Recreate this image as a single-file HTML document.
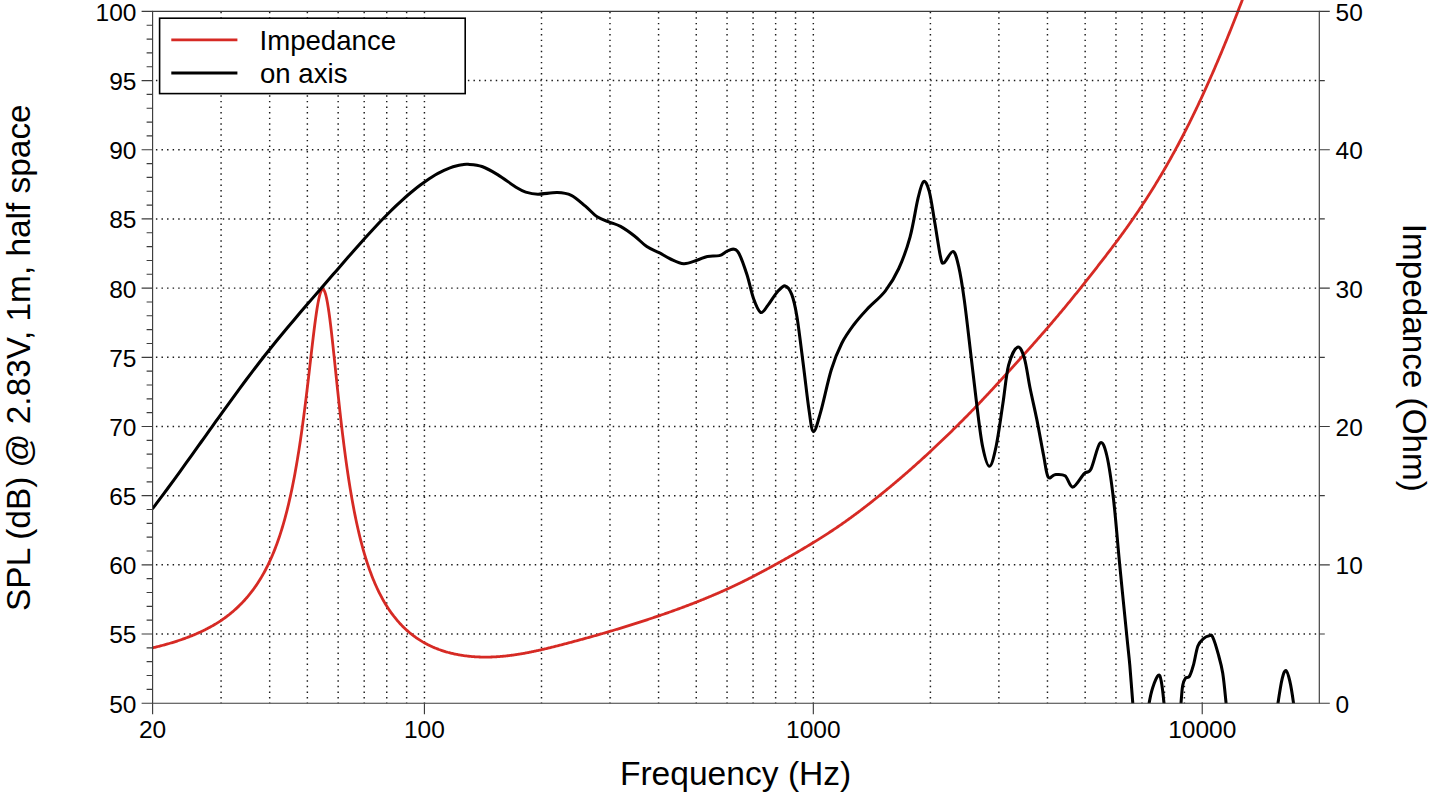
<!DOCTYPE html><html><head><meta charset="utf-8"><style>html,body{margin:0;padding:0;background:#fff;width:1432px;height:797px;overflow:hidden}svg{display:block}text{font-family:"Liberation Sans",sans-serif;fill:#000}</style></head><body>
<svg width="1432" height="797" viewBox="0 0 1432 797">
<path d="M221.08,11.78V703.20 M269.67,11.78V703.20 M307.36,11.78V703.20 M338.15,11.78V703.20 M364.19,11.78V703.20 M386.74,11.78V703.20 M406.63,11.78V703.20 M424.43,11.78V703.20 M541.50,11.78V703.20 M609.98,11.78V703.20 M658.57,11.78V703.20 M696.26,11.78V703.20 M727.05,11.78V703.20 M753.09,11.78V703.20 M775.64,11.78V703.20 M795.53,11.78V703.20 M813.33,11.78V703.20 M930.40,11.78V703.20 M998.88,11.78V703.20 M1047.47,11.78V703.20 M1085.16,11.78V703.20 M1115.95,11.78V703.20 M1141.99,11.78V703.20 M1164.54,11.78V703.20 M1184.43,11.78V703.20 M1202.23,11.78V703.20 M155.92,634.02H1319.30 M155.92,564.84H1319.30 M155.92,495.66H1319.30 M155.92,426.48H1319.30 M155.92,357.30H1319.30 M155.92,288.12H1319.30 M155.92,218.94H1319.30 M155.92,149.76H1319.30 M155.92,80.58H1319.30" stroke="#1a1a1a" stroke-width="1.45" stroke-dasharray="1.45 4.121" fill="none"/>
<defs><clipPath id="c"><rect x="152.60" y="-8.60" width="1166.70" height="711.80"/></clipPath></defs>
<g clip-path="url(#c)" fill="none" stroke-linejoin="round" stroke-linecap="round">
<path d="M152.60,647.85 L153.39,647.66 L154.18,647.47 L154.97,647.28 L155.76,647.09 L156.55,646.90 L157.35,646.70 L158.14,646.50 L158.93,646.30 L159.72,646.10 L160.51,645.89 L161.30,645.69 L162.09,645.48 L162.88,645.27 L163.67,645.05 L164.46,644.84 L165.25,644.62 L166.05,644.40 L166.84,644.18 L167.63,643.95 L168.42,643.72 L169.21,643.49 L170.00,643.26 L170.79,643.03 L171.58,642.79 L172.37,642.55 L173.16,642.30 L173.95,642.06 L174.74,641.81 L175.54,641.56 L176.33,641.31 L177.12,641.05 L177.91,640.79 L178.70,640.53 L179.49,640.26 L180.28,639.99 L181.07,639.72 L181.86,639.45 L182.65,639.17 L183.44,638.89 L184.24,638.61 L185.03,638.32 L185.82,638.03 L186.61,637.73 L187.40,637.44 L188.19,637.14 L188.98,636.83 L189.77,636.52 L190.56,636.21 L191.35,635.90 L192.14,635.58 L192.94,635.25 L193.73,634.93 L194.52,634.59 L195.31,634.26 L196.10,633.92 L196.89,633.57 L197.68,633.23 L198.47,632.87 L199.26,632.52 L200.05,632.16 L200.84,631.79 L201.64,631.42 L202.43,631.04 L203.22,630.66 L204.01,630.28 L204.80,629.89 L205.59,629.49 L206.38,629.09 L207.17,628.68 L207.96,628.27 L208.75,627.85 L209.54,627.43 L210.34,627.00 L211.13,626.57 L211.92,626.13 L212.71,625.68 L213.50,625.23 L214.29,624.77 L215.08,624.30 L215.87,623.83 L216.66,623.35 L217.45,622.86 L218.24,622.37 L219.03,621.87 L219.83,621.36 L220.62,620.85 L221.41,620.32 L222.20,619.77 L222.99,619.22 L223.78,618.65 L224.57,618.08 L225.36,617.50 L226.15,616.91 L226.94,616.32 L227.73,615.71 L228.53,615.10 L229.32,614.47 L230.11,613.84 L230.90,613.19 L231.69,612.53 L232.48,611.87 L233.27,611.19 L234.06,610.50 L234.85,609.81 L235.64,609.10 L236.43,608.37 L237.23,607.64 L238.02,606.89 L238.81,606.13 L239.60,605.36 L240.39,604.57 L241.18,603.77 L241.97,602.96 L242.76,602.13 L243.55,601.29 L244.34,600.43 L245.13,599.55 L245.93,598.66 L246.72,597.75 L247.51,596.83 L248.30,595.89 L249.09,594.93 L249.88,593.95 L250.67,592.95 L251.46,591.93 L252.25,590.90 L253.04,589.84 L253.83,588.76 L254.63,587.66 L255.42,586.53 L256.21,585.38 L257.00,584.21 L257.79,583.01 L258.58,581.79 L259.37,580.54 L260.16,579.26 L260.95,577.96 L261.74,576.62 L262.53,575.26 L263.32,573.86 L264.12,572.44 L264.91,570.98 L265.70,569.48 L266.49,567.95 L267.28,566.38 L268.07,564.78 L268.86,563.13 L269.65,561.45 L270.44,559.72 L271.23,557.95 L272.02,556.13 L272.82,554.27 L273.61,552.35 L274.40,550.39 L275.19,548.38 L275.98,546.31 L276.77,544.18 L277.56,542.00 L278.35,539.75 L279.14,537.44 L279.93,535.07 L280.72,532.63 L281.52,530.11 L282.31,527.53 L283.10,524.86 L283.89,522.12 L284.68,519.30 L285.47,516.39 L286.26,513.39 L287.05,510.30 L287.84,507.11 L288.63,503.82 L289.42,500.43 L290.22,496.93 L291.01,493.31 L291.80,489.59 L292.59,485.74 L293.38,481.76 L294.17,477.66 L294.96,473.42 L295.75,469.05 L296.54,464.54 L297.33,459.87 L298.12,455.06 L298.92,450.10 L299.71,444.98 L300.50,439.70 L301.29,434.27 L302.08,428.67 L302.87,422.91 L303.66,416.99 L304.45,410.92 L305.24,404.70 L306.03,398.33 L306.82,391.84 L307.61,385.22 L308.41,378.51 L309.20,371.72 L309.99,364.88 L310.78,358.03 L311.57,351.19 L312.36,344.42 L313.15,337.77 L313.94,331.28 L314.73,325.02 L315.52,319.06 L316.31,313.46 L317.11,308.29 L317.90,303.62 L318.69,299.50 L319.48,296.01 L320.27,293.19 L321.06,291.09 L321.85,289.75 L322.64,289.20 L323.43,289.45 L324.22,290.50 L325.01,292.36 L325.81,294.99 L326.60,298.36 L327.39,302.44 L328.18,307.16 L328.97,312.47 L329.76,318.31 L330.55,324.60 L331.34,331.27 L332.13,338.24 L332.92,345.46 L333.71,352.86 L334.51,360.37 L335.30,367.94 L336.09,375.52 L336.88,383.08 L337.67,390.57 L338.46,397.96 L339.25,405.24 L340.04,412.38 L340.83,419.36 L341.62,426.18 L342.41,432.83 L343.21,439.29 L344.00,445.58 L344.79,451.68 L345.58,457.59 L346.37,463.33 L347.16,468.88 L347.95,474.26 L348.74,479.46 L349.53,484.49 L350.32,489.36 L351.11,494.07 L351.90,498.62 L352.70,503.02 L353.49,507.28 L354.28,511.40 L355.07,515.38 L355.86,519.23 L356.65,522.96 L357.44,526.57 L358.23,530.06 L359.02,533.44 L359.81,536.71 L360.60,539.88 L361.40,542.95 L362.19,545.93 L362.98,548.81 L363.77,551.61 L364.56,554.32 L365.35,556.95 L366.14,559.50 L366.93,561.98 L367.72,564.39 L368.51,566.72 L369.30,568.99 L370.10,571.20 L370.89,573.34 L371.68,575.42 L372.47,577.45 L373.26,579.42 L374.05,581.33 L374.84,583.20 L375.63,585.01 L376.42,586.78 L377.21,588.50 L378.00,590.18 L378.80,591.81 L379.59,593.40 L380.38,594.95 L381.17,596.46 L381.96,597.94 L382.75,599.37 L383.54,600.78 L384.33,602.14 L385.12,603.48 L385.91,604.78 L386.70,606.05 L387.50,607.29 L388.29,608.50 L389.08,609.69 L389.87,610.84 L390.66,611.97 L391.45,613.08 L392.24,614.15 L393.03,615.21 L393.82,616.24 L394.61,617.24 L395.40,618.23 L396.19,619.19 L396.99,620.13 L397.78,621.05 L398.57,621.95 L399.36,622.83 L400.15,623.69 L400.94,624.54 L401.73,625.36 L402.52,626.17 L403.31,626.96 L404.10,627.73 L404.89,628.49 L405.69,629.23 L406.48,629.95 L407.27,630.66 L408.06,631.36 L408.85,632.04 L409.64,632.70 L410.43,633.35 L411.22,633.99 L412.01,634.61 L412.80,635.22 L413.59,635.82 L414.39,636.41 L415.18,636.98 L415.97,637.54 L416.76,638.09 L417.55,638.63 L418.34,639.16 L419.13,639.67 L419.92,640.18 L420.71,640.67 L421.50,641.15 L422.29,641.63 L423.09,642.09 L423.88,642.54 L424.67,642.99 L425.46,643.42 L426.25,643.84 L427.04,644.26 L427.83,644.66 L428.62,645.06 L429.41,645.45 L430.20,645.83 L430.99,646.20 L431.79,646.56 L432.58,646.92 L433.37,647.26 L434.16,647.60 L434.95,647.93 L435.74,648.26 L436.53,648.57 L437.32,648.88 L438.11,649.18 L438.90,649.48 L439.69,649.76 L440.48,650.04 L441.28,650.32 L442.07,650.58 L442.86,650.84 L443.65,651.09 L444.44,651.34 L445.23,651.58 L446.02,651.82 L446.81,652.04 L447.60,652.27 L448.39,652.48 L449.18,652.69 L449.98,652.90 L450.77,653.10 L451.56,653.29 L452.35,653.48 L453.14,653.66 L453.93,653.83 L454.72,654.01 L455.51,654.17 L456.30,654.33 L457.09,654.49 L457.88,654.64 L458.68,654.78 L459.47,654.92 L460.26,655.06 L461.05,655.19 L461.84,655.32 L462.63,655.44 L463.42,655.55 L464.21,655.67 L465.00,655.77 L465.79,655.88 L466.58,655.98 L467.38,656.07 L468.17,656.16 L468.96,656.24 L469.75,656.33 L470.54,656.40 L471.33,656.48 L472.12,656.54 L472.91,656.61 L473.70,656.67 L474.49,656.73 L475.28,656.78 L476.08,656.82 L476.87,656.87 L477.66,656.91 L478.45,656.95 L479.24,656.98 L480.03,657.01 L480.82,657.03 L481.61,657.05 L482.40,657.07 L483.19,657.08 L483.98,657.09 L484.77,657.10 L485.57,657.10 L486.36,657.10 L487.15,657.09 L487.94,657.08 L488.73,657.07 L489.52,657.06 L490.31,657.04 L491.10,657.01 L491.89,656.98 L492.68,656.95 L493.47,656.92 L494.27,656.89 L495.06,656.85 L495.85,656.80 L496.64,656.75 L497.43,656.70 L498.22,656.65 L499.01,656.59 L499.80,656.53 L500.59,656.47 L501.38,656.40 L502.17,656.33 L502.97,656.26 L503.76,656.18 L504.55,656.10 L505.34,656.02 L506.13,655.93 L506.92,655.84 L507.71,655.75 L508.50,655.66 L509.29,655.57 L510.08,655.47 L510.87,655.36 L511.67,655.26 L512.46,655.15 L513.25,655.04 L514.04,654.93 L514.83,654.82 L515.62,654.70 L516.41,654.58 L517.20,654.46 L517.99,654.33 L518.78,654.21 L519.57,654.08 L520.37,653.95 L521.16,653.81 L521.95,653.68 L522.74,653.54 L523.53,653.40 L524.32,653.26 L525.11,653.12 L525.90,652.97 L526.69,652.82 L527.48,652.67 L528.27,652.52 L529.06,652.36 L529.86,652.21 L530.65,652.05 L531.44,651.89 L532.23,651.73 L533.02,651.57 L533.81,651.40 L534.60,651.24 L535.39,651.07 L536.18,650.90 L536.97,650.73 L537.76,650.55 L538.56,650.38 L539.35,650.20 L540.14,650.03 L540.93,649.85 L541.72,649.67 L542.51,649.48 L543.30,649.30 L544.09,649.11 L544.88,648.93 L545.67,648.74 L546.46,648.55 L547.26,648.36 L548.05,648.17 L548.84,647.98 L549.63,647.78 L550.42,647.59 L551.21,647.39 L552.00,647.20 L552.79,647.00 L553.58,646.80 L554.37,646.60 L555.16,646.40 L555.96,646.20 L556.75,646.00 L557.54,645.80 L558.33,645.60 L559.12,645.39 L559.91,645.19 L560.70,644.98 L561.49,644.78 L562.28,644.57 L563.07,644.37 L563.86,644.16 L564.66,643.95 L565.45,643.74 L566.24,643.53 L567.03,643.33 L567.82,643.12 L568.61,642.91 L569.40,642.70 L570.19,642.49 L570.98,642.28 L571.77,642.07 L572.56,641.86 L573.35,641.65 L574.15,641.43 L574.94,641.22 L575.73,641.01 L576.52,640.80 L577.31,640.58 L578.10,640.37 L578.89,640.15 L579.68,639.94 L580.47,639.72 L581.26,639.51 L582.05,639.29 L582.85,639.08 L583.64,638.86 L584.43,638.64 L585.22,638.42 L586.01,638.21 L586.80,637.99 L587.59,637.77 L588.38,637.55 L589.17,637.33 L589.96,637.11 L590.75,636.89 L591.55,636.67 L592.34,636.44 L593.13,636.22 L593.92,636.00 L594.71,635.77 L595.50,635.55 L596.29,635.33 L597.08,635.10 L597.87,634.88 L598.66,634.65 L599.45,634.42 L600.25,634.19 L601.04,633.97 L601.83,633.74 L602.62,633.51 L603.41,633.28 L604.20,633.05 L604.99,632.82 L605.78,632.59 L606.57,632.36 L607.36,632.13 L608.15,631.89 L608.94,631.66 L609.74,631.42 L610.53,631.19 L611.32,630.96 L612.11,630.72 L612.90,630.48 L613.69,630.25 L614.48,630.01 L615.27,629.77 L616.06,629.53 L616.85,629.30 L617.64,629.06 L618.44,628.82 L619.23,628.57 L620.02,628.33 L620.81,628.09 L621.60,627.85 L622.39,627.61 L623.18,627.36 L623.97,627.12 L624.76,626.87 L625.55,626.63 L626.34,626.39 L627.14,626.14 L627.93,625.89 L628.72,625.65 L629.51,625.40 L630.30,625.15 L631.09,624.90 L631.88,624.65 L632.67,624.40 L633.46,624.15 L634.25,623.90 L635.04,623.65 L635.84,623.40 L636.63,623.14 L637.42,622.89 L638.21,622.64 L639.00,622.38 L639.79,622.13 L640.58,621.87 L641.37,621.62 L642.16,621.36 L642.95,621.11 L643.74,620.85 L644.54,620.59 L645.33,620.33 L646.12,620.07 L646.91,619.81 L647.70,619.55 L648.49,619.29 L649.28,619.03 L650.07,618.77 L650.86,618.51 L651.65,618.25 L652.44,617.98 L653.23,617.72 L654.03,617.45 L654.82,617.19 L655.61,616.92 L656.40,616.66 L657.19,616.39 L657.98,616.12 L658.77,615.85 L659.56,615.58 L660.35,615.31 L661.14,615.04 L661.93,614.77 L662.73,614.50 L663.52,614.22 L664.31,613.95 L665.10,613.67 L665.89,613.40 L666.68,613.12 L667.47,612.85 L668.26,612.57 L669.05,612.29 L669.84,612.01 L670.63,611.73 L671.43,611.45 L672.22,611.17 L673.01,610.88 L673.80,610.60 L674.59,610.31 L675.38,610.03 L676.17,609.74 L676.96,609.45 L677.75,609.17 L678.54,608.88 L679.33,608.59 L680.13,608.30 L680.92,608.00 L681.71,607.71 L682.50,607.42 L683.29,607.12 L684.08,606.83 L684.87,606.53 L685.66,606.23 L686.45,605.93 L687.24,605.63 L688.03,605.33 L688.83,605.03 L689.62,604.73 L690.41,604.43 L691.20,604.12 L691.99,603.82 L692.78,603.51 L693.57,603.20 L694.36,602.89 L695.15,602.58 L695.94,602.27 L696.73,601.96 L697.52,601.65 L698.32,601.34 L699.11,601.02 L699.90,600.71 L700.69,600.39 L701.48,600.07 L702.27,599.75 L703.06,599.43 L703.85,599.11 L704.64,598.79 L705.43,598.46 L706.22,598.14 L707.02,597.81 L707.81,597.49 L708.60,597.16 L709.39,596.83 L710.18,596.50 L710.97,596.17 L711.76,595.83 L712.55,595.50 L713.34,595.16 L714.13,594.83 L714.92,594.49 L715.72,594.15 L716.51,593.81 L717.30,593.47 L718.09,593.12 L718.88,592.78 L719.67,592.43 L720.46,592.08 L721.25,591.73 L722.04,591.38 L722.83,591.03 L723.62,590.68 L724.42,590.33 L725.21,589.97 L726.00,589.61 L726.79,589.25 L727.58,588.89 L728.37,588.53 L729.16,588.17 L729.95,587.80 L730.74,587.44 L731.53,587.07 L732.32,586.70 L733.12,586.33 L733.91,585.96 L734.70,585.58 L735.49,585.21 L736.28,584.83 L737.07,584.45 L737.86,584.07 L738.65,583.69 L739.44,583.31 L740.23,582.92 L741.02,582.54 L741.81,582.15 L742.61,581.76 L743.40,581.37 L744.19,580.98 L744.98,580.58 L745.77,580.19 L746.56,579.79 L747.35,579.39 L748.14,578.99 L748.93,578.59 L749.72,578.19 L750.51,577.79 L751.31,577.39 L752.10,576.98 L752.89,576.57 L753.68,576.16 L754.47,575.75 L755.26,575.34 L756.05,574.93 L756.84,574.52 L757.63,574.10 L758.42,573.69 L759.21,573.27 L760.01,572.85 L760.80,572.44 L761.59,572.02 L762.38,571.60 L763.17,571.18 L763.96,570.75 L764.75,570.33 L765.54,569.90 L766.33,569.48 L767.12,569.05 L767.91,568.63 L768.71,568.20 L769.50,567.77 L770.29,567.34 L771.08,566.91 L771.87,566.48 L772.66,566.05 L773.45,565.61 L774.24,565.18 L775.03,564.74 L775.82,564.31 L776.61,563.87 L777.41,563.44 L778.20,563.00 L778.99,562.56 L779.78,562.12 L780.57,561.68 L781.36,561.24 L782.15,560.80 L782.94,560.35 L783.73,559.91 L784.52,559.46 L785.31,559.02 L786.10,558.57 L786.90,558.12 L787.69,557.68 L788.48,557.23 L789.27,556.78 L790.06,556.32 L790.85,555.87 L791.64,555.42 L792.43,554.97 L793.22,554.51 L794.01,554.05 L794.80,553.60 L795.60,553.14 L796.39,552.68 L797.18,552.22 L797.97,551.76 L798.76,551.30 L799.55,550.83 L800.34,550.37 L801.13,549.90 L801.92,549.44 L802.71,548.97 L803.50,548.50 L804.30,548.03 L805.09,547.56 L805.88,547.09 L806.67,546.62 L807.46,546.14 L808.25,545.67 L809.04,545.19 L809.83,544.71 L810.62,544.23 L811.41,543.75 L812.20,543.27 L813.00,542.78 L813.79,542.30 L814.58,541.81 L815.37,541.33 L816.16,540.84 L816.95,540.35 L817.74,539.86 L818.53,539.36 L819.32,538.87 L820.11,538.37 L820.90,537.88 L821.70,537.38 L822.49,536.88 L823.28,536.37 L824.07,535.87 L824.86,535.36 L825.65,534.86 L826.44,534.35 L827.23,533.84 L828.02,533.32 L828.81,532.81 L829.60,532.29 L830.39,531.77 L831.19,531.25 L831.98,530.73 L832.77,530.21 L833.56,529.68 L834.35,529.15 L835.14,528.62 L835.93,528.09 L836.72,527.55 L837.51,527.02 L838.30,526.48 L839.09,525.94 L839.89,525.40 L840.68,524.85 L841.47,524.30 L842.26,523.75 L843.05,523.20 L843.84,522.64 L844.63,522.09 L845.42,521.53 L846.21,520.96 L847.00,520.40 L847.79,519.83 L848.59,519.27 L849.38,518.70 L850.17,518.13 L850.96,517.55 L851.75,516.97 L852.54,516.39 L853.33,515.81 L854.12,515.23 L854.91,514.64 L855.70,514.06 L856.49,513.47 L857.29,512.87 L858.08,512.28 L858.87,511.68 L859.66,511.09 L860.45,510.49 L861.24,509.89 L862.03,509.28 L862.82,508.68 L863.61,508.07 L864.40,507.46 L865.19,506.85 L865.99,506.24 L866.78,505.63 L867.57,505.01 L868.36,504.39 L869.15,503.78 L869.94,503.16 L870.73,502.54 L871.52,501.91 L872.31,501.29 L873.10,500.66 L873.89,500.03 L874.68,499.40 L875.48,498.77 L876.27,498.14 L877.06,497.51 L877.85,496.88 L878.64,496.24 L879.43,495.60 L880.22,494.96 L881.01,494.33 L881.80,493.68 L882.59,493.04 L883.38,492.40 L884.18,491.75 L884.97,491.11 L885.76,490.46 L886.55,489.81 L887.34,489.16 L888.13,488.51 L888.92,487.86 L889.71,487.20 L890.50,486.55 L891.29,485.89 L892.08,485.23 L892.88,484.57 L893.67,483.91 L894.46,483.25 L895.25,482.59 L896.04,481.92 L896.83,481.25 L897.62,480.58 L898.41,479.91 L899.20,479.24 L899.99,478.57 L900.78,477.89 L901.58,477.22 L902.37,476.54 L903.16,475.86 L903.95,475.18 L904.74,474.49 L905.53,473.81 L906.32,473.12 L907.11,472.43 L907.90,471.74 L908.69,471.05 L909.48,470.36 L910.28,469.66 L911.07,468.97 L911.86,468.27 L912.65,467.57 L913.44,466.87 L914.23,466.16 L915.02,465.46 L915.81,464.75 L916.60,464.04 L917.39,463.33 L918.18,462.62 L918.97,461.91 L919.77,461.19 L920.56,460.48 L921.35,459.76 L922.14,459.04 L922.93,458.32 L923.72,457.60 L924.51,456.87 L925.30,456.15 L926.09,455.42 L926.88,454.69 L927.67,453.96 L928.47,453.23 L929.26,452.50 L930.05,451.76 L930.84,451.02 L931.63,450.29 L932.42,449.55 L933.21,448.81 L934.00,448.07 L934.79,447.32 L935.58,446.58 L936.37,445.83 L937.17,445.09 L937.96,444.34 L938.75,443.59 L939.54,442.84 L940.33,442.08 L941.12,441.33 L941.91,440.57 L942.70,439.82 L943.49,439.06 L944.28,438.30 L945.07,437.54 L945.87,436.78 L946.66,436.01 L947.45,435.25 L948.24,434.48 L949.03,433.72 L949.82,432.95 L950.61,432.18 L951.40,431.41 L952.19,430.63 L952.98,429.86 L953.77,429.08 L954.57,428.31 L955.36,427.53 L956.15,426.75 L956.94,425.97 L957.73,425.18 L958.52,424.40 L959.31,423.61 L960.10,422.83 L960.89,422.04 L961.68,421.24 L962.47,420.45 L963.26,419.66 L964.06,418.86 L964.85,418.07 L965.64,417.27 L966.43,416.47 L967.22,415.66 L968.01,414.86 L968.80,414.05 L969.59,413.25 L970.38,412.44 L971.17,411.62 L971.96,410.81 L972.76,410.00 L973.55,409.18 L974.34,408.36 L975.13,407.54 L975.92,406.72 L976.71,405.90 L977.50,405.07 L978.29,404.25 L979.08,403.42 L979.87,402.59 L980.66,401.76 L981.46,400.92 L982.25,400.09 L983.04,399.25 L983.83,398.41 L984.62,397.58 L985.41,396.73 L986.20,395.89 L986.99,395.05 L987.78,394.20 L988.57,393.36 L989.36,392.51 L990.16,391.66 L990.95,390.81 L991.74,389.96 L992.53,389.10 L993.32,388.25 L994.11,387.39 L994.90,386.54 L995.69,385.68 L996.48,384.82 L997.27,383.96 L998.06,383.10 L998.85,382.24 L999.65,381.37 L1000.44,380.51 L1001.23,379.65 L1002.02,378.78 L1002.81,377.92 L1003.60,377.05 L1004.39,376.18 L1005.18,375.31 L1005.97,374.44 L1006.76,373.58 L1007.55,372.71 L1008.35,371.84 L1009.14,370.96 L1009.93,370.09 L1010.72,369.22 L1011.51,368.35 L1012.30,367.47 L1013.09,366.60 L1013.88,365.72 L1014.67,364.85 L1015.46,363.97 L1016.25,363.10 L1017.05,362.22 L1017.84,361.34 L1018.63,360.47 L1019.42,359.59 L1020.21,358.71 L1021.00,357.83 L1021.79,356.95 L1022.58,356.07 L1023.37,355.19 L1024.16,354.31 L1024.95,353.42 L1025.75,352.54 L1026.54,351.66 L1027.33,350.77 L1028.12,349.89 L1028.91,349.00 L1029.70,348.11 L1030.49,347.23 L1031.28,346.34 L1032.07,345.45 L1032.86,344.56 L1033.65,343.67 L1034.45,342.77 L1035.24,341.88 L1036.03,340.99 L1036.82,340.09 L1037.61,339.19 L1038.40,338.30 L1039.19,337.40 L1039.98,336.49 L1040.77,335.59 L1041.56,334.69 L1042.35,333.78 L1043.14,332.88 L1043.94,331.97 L1044.73,331.06 L1045.52,330.15 L1046.31,329.23 L1047.10,328.32 L1047.89,327.41 L1048.68,326.49 L1049.47,325.57 L1050.26,324.65 L1051.05,323.73 L1051.84,322.80 L1052.64,321.88 L1053.43,320.95 L1054.22,320.02 L1055.01,319.09 L1055.80,318.16 L1056.59,317.22 L1057.38,316.28 L1058.17,315.35 L1058.96,314.41 L1059.75,313.46 L1060.54,312.52 L1061.34,311.58 L1062.13,310.63 L1062.92,309.68 L1063.71,308.73 L1064.50,307.78 L1065.29,306.82 L1066.08,305.86 L1066.87,304.91 L1067.66,303.95 L1068.45,302.98 L1069.24,302.02 L1070.04,301.05 L1070.83,300.09 L1071.62,299.12 L1072.41,298.14 L1073.20,297.17 L1073.99,296.20 L1074.78,295.22 L1075.57,294.24 L1076.36,293.26 L1077.15,292.28 L1077.94,291.29 L1078.74,290.31 L1079.53,289.32 L1080.32,288.33 L1081.11,287.34 L1081.90,286.35 L1082.69,285.36 L1083.48,284.36 L1084.27,283.36 L1085.06,282.36 L1085.85,281.37 L1086.64,280.37 L1087.43,279.37 L1088.23,278.37 L1089.02,277.36 L1089.81,276.35 L1090.60,275.35 L1091.39,274.34 L1092.18,273.34 L1092.97,272.33 L1093.76,271.31 L1094.55,270.30 L1095.34,269.29 L1096.13,268.27 L1096.93,267.26 L1097.72,266.25 L1098.51,265.23 L1099.30,264.21 L1100.09,263.18 L1100.88,262.17 L1101.67,261.15 L1102.46,260.13 L1103.25,259.10 L1104.04,258.07 L1104.83,257.04 L1105.63,256.02 L1106.42,254.99 L1107.21,253.96 L1108.00,252.92 L1108.79,251.89 L1109.58,250.85 L1110.37,249.81 L1111.16,248.77 L1111.95,247.73 L1112.74,246.68 L1113.53,245.63 L1114.33,244.58 L1115.12,243.53 L1115.91,242.47 L1116.70,241.41 L1117.49,240.35 L1118.28,239.29 L1119.07,238.22 L1119.86,237.15 L1120.65,236.07 L1121.44,234.99 L1122.23,233.91 L1123.03,232.83 L1123.82,231.74 L1124.61,230.65 L1125.40,229.55 L1126.19,228.45 L1126.98,227.34 L1127.77,226.23 L1128.56,225.12 L1129.35,224.01 L1130.14,222.89 L1130.93,221.76 L1131.72,220.62 L1132.52,219.49 L1133.31,218.35 L1134.10,217.21 L1134.89,216.06 L1135.68,214.90 L1136.47,213.74 L1137.26,212.58 L1138.05,211.41 L1138.84,210.24 L1139.63,209.06 L1140.42,207.88 L1141.22,206.68 L1142.01,205.49 L1142.80,204.29 L1143.59,203.08 L1144.38,201.88 L1145.17,200.66 L1145.96,199.44 L1146.75,198.21 L1147.54,196.98 L1148.33,195.74 L1149.12,194.50 L1149.92,193.26 L1150.71,192.00 L1151.50,190.74 L1152.29,189.47 L1153.08,188.20 L1153.87,186.93 L1154.66,185.65 L1155.45,184.36 L1156.24,183.06 L1157.03,181.76 L1157.82,180.45 L1158.62,179.14 L1159.41,177.83 L1160.20,176.51 L1160.99,175.17 L1161.78,173.83 L1162.57,172.49 L1163.36,171.14 L1164.15,169.79 L1164.94,168.43 L1165.73,167.06 L1166.52,165.68 L1167.32,164.30 L1168.11,162.91 L1168.90,161.52 L1169.69,160.12 L1170.48,158.71 L1171.27,157.29 L1172.06,155.87 L1172.85,154.44 L1173.64,153.01 L1174.43,151.57 L1175.22,150.12 L1176.01,148.66 L1176.81,147.19 L1177.60,145.72 L1178.39,144.24 L1179.18,142.76 L1179.97,141.27 L1180.76,139.77 L1181.55,138.25 L1182.34,136.73 L1183.13,135.21 L1183.92,133.69 L1184.71,132.15 L1185.51,130.61 L1186.30,129.05 L1187.09,127.48 L1187.88,125.91 L1188.67,124.34 L1189.46,122.76 L1190.25,121.17 L1191.04,119.56 L1191.83,117.95 L1192.62,116.34 L1193.41,114.71 L1194.21,113.09 L1195.00,111.46 L1195.79,109.80 L1196.58,108.14 L1197.37,106.48 L1198.16,104.81 L1198.95,103.14 L1199.74,101.46 L1200.53,99.76 L1201.32,98.06 L1202.11,96.35 L1202.91,94.63 L1203.70,92.91 L1204.49,91.18 L1205.28,89.45 L1206.07,87.69 L1206.86,85.94 L1207.65,84.17 L1208.44,82.41 L1209.23,80.63 L1210.02,78.86 L1210.81,77.06 L1211.61,75.26 L1212.40,73.45 L1213.19,71.63 L1213.98,69.82 L1214.77,67.99 L1215.56,66.16 L1216.35,64.31 L1217.14,62.46 L1217.93,60.60 L1218.72,58.74 L1219.51,56.87 L1220.30,54.99 L1221.10,53.10 L1221.89,51.20 L1222.68,49.30 L1223.47,47.40 L1224.26,45.49 L1225.05,43.57 L1225.84,41.64 L1226.63,39.70 L1227.42,37.76 L1228.21,35.81 L1229.00,33.86 L1229.80,31.90 L1230.59,29.93 L1231.38,27.95 L1232.17,25.97 L1232.96,23.98 L1233.75,21.98 L1234.54,19.98 L1235.33,17.97 L1236.12,15.96 L1236.91,13.94 L1237.70,11.91 L1238.50,9.87 L1239.29,7.83 L1240.08,5.79 L1240.87,3.74 L1241.66,1.68 L1242.45,-0.39 L1243.24,-2.46 L1244.03,-4.54 L1244.82,-6.62 L1245.61,-8.71 L1246.40,-10.80 L1247.20,-12.90 L1247.99,-15.01 L1248.78,-17.12 L1249.57,-19.24 L1250.36,-21.37 L1251.15,-23.50 L1251.94,-25.63 L1252.73,-27.77 L1253.52,-29.92 L1254.31,-32.07 L1255.10,-34.20 L1255.90,-36.15 L1256.69,-38.11 L1257.48,-40.07 L1258.27,-42.04 L1259.06,-44.02" stroke="#d62a24" stroke-width="2.8"/>
<path d="M152.70,508.30 C153.25,507.61 154.45,506.16 156.00,504.13 C157.55,502.11 160.00,498.82 162.00,496.14 C164.00,493.45 166.00,490.75 168.00,488.03 C170.00,485.31 172.00,482.58 174.00,479.83 C176.00,477.09 178.00,474.33 180.00,471.56 C182.00,468.80 184.00,466.02 186.00,463.23 C188.00,460.45 190.00,457.65 192.00,454.86 C194.00,452.06 196.00,449.26 198.00,446.45 C200.00,443.65 202.00,440.84 204.00,438.04 C206.00,435.23 208.00,432.42 210.00,429.62 C212.00,426.82 214.00,424.01 216.00,421.22 C218.00,418.43 220.00,415.64 222.00,412.85 C224.00,410.07 226.00,407.30 228.00,404.54 C230.00,401.77 232.00,399.02 234.00,396.28 C236.00,393.54 238.00,390.82 240.00,388.11 C242.00,385.40 244.00,382.70 246.00,380.03 C248.00,377.35 250.00,374.69 252.00,372.06 C254.00,369.42 256.00,366.80 258.00,364.21 C260.00,361.62 262.00,359.05 264.00,356.51 C266.00,353.97 268.00,351.45 270.00,348.95 C272.00,346.46 274.00,343.99 276.00,341.53 C278.00,339.08 280.00,336.65 282.00,334.23 C284.00,331.81 286.00,329.42 288.00,327.03 C290.00,324.64 292.00,322.27 294.00,319.91 C296.00,317.55 298.00,315.20 300.00,312.86 C302.00,310.51 304.00,308.18 306.00,305.85 C308.00,303.52 310.00,301.19 312.00,298.87 C314.00,296.55 316.00,294.23 318.00,291.92 C320.00,289.60 322.00,287.29 324.00,284.98 C326.00,282.67 328.00,280.37 330.00,278.06 C332.00,275.76 334.00,273.45 336.00,271.15 C338.00,268.84 340.00,266.54 342.00,264.24 C344.00,261.94 346.00,259.64 348.00,257.35 C350.00,255.05 352.00,252.77 354.00,250.50 C356.00,248.22 358.00,245.96 360.00,243.71 C362.00,241.47 364.00,239.24 366.00,237.03 C368.00,234.82 370.00,232.62 372.00,230.46 C374.00,228.29 376.00,226.15 378.00,224.03 C380.00,221.92 382.00,219.83 384.00,217.78 C386.00,215.73 388.00,213.70 390.00,211.72 C392.00,209.74 394.00,207.79 396.00,205.88 C398.00,203.98 400.00,202.11 402.00,200.29 C404.00,198.47 406.00,196.69 408.00,194.97 C410.00,193.25 412.00,191.57 414.00,189.95 C416.00,188.33 418.00,186.75 420.00,185.25 C422.00,183.74 424.00,182.28 426.00,180.89 C428.00,179.51 430.00,178.17 432.00,176.93 C434.00,175.68 436.00,174.49 438.00,173.40 C440.00,172.30 442.00,171.28 444.00,170.36 C446.00,169.44 448.00,168.61 450.00,167.88 C452.00,167.16 454.00,166.53 456.00,166.02 C458.00,165.50 460.00,165.09 462.00,164.82 C464.00,164.54 464.67,164.06 468.00,164.34 C471.33,164.62 477.07,164.79 482.00,166.50 C486.93,168.21 491.78,171.05 497.60,174.60 C503.42,178.15 512.22,184.88 516.90,187.80 C521.58,190.72 522.20,191.03 525.70,192.10 C529.20,193.17 532.63,194.13 537.90,194.20 C543.17,194.27 551.73,192.32 557.30,192.50 C562.87,192.68 566.62,193.02 571.30,195.30 C575.98,197.58 581.02,202.57 585.40,206.20 C589.78,209.83 593.52,214.42 597.60,217.10 C601.68,219.78 606.08,220.75 609.90,222.30 C613.72,223.85 616.40,224.12 620.50,226.40 C624.60,228.68 630.12,232.63 634.50,236.00 C638.88,239.37 642.70,243.82 646.80,246.60 C650.90,249.38 655.15,250.63 659.10,252.70 C663.05,254.77 666.40,257.17 670.50,259.00 C674.60,260.83 679.30,263.48 683.70,263.70 C688.10,263.92 692.95,261.52 696.90,260.30 C700.85,259.08 703.67,257.18 707.40,256.40 C711.13,255.62 716.00,256.48 719.30,255.60 C722.60,254.72 724.78,252.17 727.20,251.10 C729.62,250.03 731.82,248.77 733.80,249.20 C735.78,249.63 736.90,249.43 739.10,253.70 C741.30,257.97 744.60,267.33 747.00,274.80 C749.40,282.27 751.22,292.22 753.50,298.50 C755.78,304.78 758.28,311.40 760.70,312.50 C763.12,313.60 765.23,308.53 768.00,305.10 C770.77,301.67 774.43,295.10 777.30,291.90 C780.17,288.70 782.78,285.45 785.20,285.90 C787.62,286.35 789.83,289.42 791.80,294.60 C793.77,299.78 795.03,304.93 797.00,317.00 C798.97,329.07 801.62,351.63 803.60,367.00 C805.58,382.37 807.27,398.43 808.90,409.20 C810.53,419.97 811.43,431.17 813.40,431.60 C815.37,432.03 817.72,422.12 820.70,411.80 C823.68,401.48 827.78,381.12 831.30,369.70 C834.82,358.28 838.08,350.75 841.80,343.30 C845.52,335.85 849.38,330.68 853.60,325.00 C857.82,319.32 861.83,314.85 867.10,309.20 C872.37,303.55 879.92,297.88 885.20,291.10 C890.48,284.32 894.65,277.55 898.80,268.50 C902.95,259.45 906.90,248.48 910.10,236.80 C913.30,225.12 915.75,207.62 918.00,198.40 C920.25,189.18 921.72,182.63 923.60,181.50 C925.48,180.37 927.42,184.63 929.30,191.60 C931.18,198.57 933.02,212.37 934.90,223.30 C936.78,234.23 939.08,250.62 940.60,257.20 C942.12,263.78 941.93,263.75 944.00,262.80 C946.07,261.85 950.57,250.93 953.00,251.50 C955.43,252.07 956.72,258.10 958.60,266.20 C960.48,274.30 962.18,284.73 964.30,300.10 C966.42,315.47 969.20,340.78 971.30,358.40 C973.40,376.02 975.02,391.12 976.90,405.80 C978.78,420.48 980.52,436.42 982.60,446.50 C984.68,456.58 987.15,466.30 989.40,466.30 C991.65,466.30 993.85,456.95 996.10,446.50 C998.35,436.05 1000.82,417.15 1002.90,403.60 C1004.98,390.05 1006.15,374.62 1008.60,365.20 C1011.05,355.78 1014.97,348.23 1017.60,347.10 C1020.23,345.97 1022.33,351.62 1024.40,358.40 C1026.47,365.18 1027.93,377.63 1030.00,387.80 C1032.07,397.97 1034.53,408.12 1036.80,419.40 C1039.07,430.68 1041.72,445.90 1043.60,455.50 C1045.48,465.10 1046.23,473.80 1048.10,477.00 C1049.97,480.20 1051.98,474.90 1054.80,474.70 C1057.62,474.50 1061.98,473.73 1065.00,475.80 C1068.02,477.87 1069.70,487.47 1072.90,487.10 C1076.10,486.73 1081.18,476.62 1084.20,473.60 C1087.22,470.58 1088.37,474.08 1091.00,469.00 C1093.63,463.92 1097.37,445.35 1100.00,443.10 C1102.63,440.85 1104.53,446.02 1106.80,455.50 C1109.07,464.98 1111.47,481.97 1113.60,500.00 C1115.73,518.03 1117.40,541.05 1119.60,563.70 C1121.80,586.35 1125.10,618.98 1126.80,635.90 C1128.50,652.82 1128.80,653.97 1129.80,665.20 C1130.80,676.43 1132.00,694.17 1132.80,703.30 C1133.60,712.43 1134.30,717.22 1134.60,720.00" stroke="#000" stroke-width="3.05"/>
<path d="M1147.00,720.00 C1147.35,717.22 1148.15,708.68 1149.10,703.30 C1150.05,697.92 1151.15,692.37 1152.70,687.70 C1154.25,683.03 1156.98,676.42 1158.40,675.30 C1159.82,674.18 1160.27,676.33 1161.20,681.00 C1162.13,685.67 1163.37,696.80 1164.00,703.30 C1164.63,709.80 1164.83,717.22 1165.00,720.00" stroke="#000" stroke-width="3.05"/>
<path d="M1180.00,720.00 C1180.17,717.22 1180.55,709.05 1181.00,703.30 C1181.45,697.55 1181.95,689.70 1182.70,685.50 C1183.45,681.30 1184.38,679.62 1185.50,678.10 C1186.62,676.58 1188.08,678.55 1189.40,676.40 C1190.72,674.25 1191.98,670.27 1193.40,665.20 C1194.82,660.13 1196.22,650.43 1197.90,646.00 C1199.58,641.57 1201.62,640.30 1203.50,638.60 C1205.38,636.90 1207.68,636.08 1209.20,635.80 C1210.72,635.52 1211.10,633.88 1212.60,636.90 C1214.10,639.92 1216.52,647.87 1218.20,653.90 C1219.88,659.93 1221.38,664.87 1222.70,673.10 C1224.02,681.33 1225.30,695.48 1226.10,703.30 C1226.90,711.12 1227.27,717.22 1227.50,720.00" stroke="#000" stroke-width="3.05"/>
<path d="M1276.00,720.00 C1276.33,717.18 1276.97,710.00 1278.00,703.10 C1279.03,696.20 1280.88,684.03 1282.20,678.60 C1283.52,673.17 1284.65,670.15 1285.90,670.50 C1287.15,670.85 1288.43,675.27 1289.70,680.70 C1290.97,686.13 1292.62,696.55 1293.50,703.10 C1294.38,709.65 1294.75,717.18 1295.00,720.00" stroke="#000" stroke-width="3.05"/>
</g>
<path d="M152.60,11.40H1319.30V703.20H152.60Z" stroke="#3c3c3c" stroke-width="1.15" fill="none"/>
<path d="M141.60,703.20H152.60 M146.60,689.36H152.60 M146.60,675.53H152.60 M146.60,661.69H152.60 M146.60,647.86H152.60 M141.60,634.02H152.60 M146.60,620.18H152.60 M146.60,606.35H152.60 M146.60,592.51H152.60 M146.60,578.68H152.60 M141.60,564.84H152.60 M146.60,551.00H152.60 M146.60,537.17H152.60 M146.60,523.33H152.60 M146.60,509.50H152.60 M141.60,495.66H152.60 M146.60,481.82H152.60 M146.60,467.99H152.60 M146.60,454.15H152.60 M146.60,440.32H152.60 M141.60,426.48H152.60 M146.60,412.64H152.60 M146.60,398.81H152.60 M146.60,384.97H152.60 M146.60,371.14H152.60 M141.60,357.30H152.60 M146.60,343.46H152.60 M146.60,329.63H152.60 M146.60,315.79H152.60 M146.60,301.96H152.60 M141.60,288.12H152.60 M146.60,274.28H152.60 M146.60,260.45H152.60 M146.60,246.61H152.60 M146.60,232.78H152.60 M141.60,218.94H152.60 M146.60,205.10H152.60 M146.60,191.27H152.60 M146.60,177.43H152.60 M146.60,163.60H152.60 M141.60,149.76H152.60 M146.60,135.92H152.60 M146.60,122.09H152.60 M146.60,108.25H152.60 M146.60,94.42H152.60 M141.60,80.58H152.60 M146.60,66.74H152.60 M146.60,52.91H152.60 M146.60,39.07H152.60 M146.60,25.24H152.60 M141.60,11.40H152.60 M1319.30,703.20H1329.80 M1319.30,634.02H1324.80 M1319.30,564.84H1329.80 M1319.30,495.66H1324.80 M1319.30,426.48H1329.80 M1319.30,357.30H1324.80 M1319.30,288.12H1329.80 M1319.30,218.94H1324.80 M1319.30,149.76H1329.80 M1319.30,80.58H1324.80 M1319.30,11.40H1329.80 M152.60,703.20V714.20 M424.43,703.20V714.20 M813.33,703.20V714.20 M1202.23,703.20V714.20" stroke="#3c3c3c" stroke-width="1.15" fill="none"/>
<text x="136.5" y="712.60" font-size="24.5" text-anchor="end">50</text>
<text x="136.5" y="643.42" font-size="24.5" text-anchor="end">55</text>
<text x="136.5" y="574.24" font-size="24.5" text-anchor="end">60</text>
<text x="136.5" y="505.06" font-size="24.5" text-anchor="end">65</text>
<text x="136.5" y="435.88" font-size="24.5" text-anchor="end">70</text>
<text x="136.5" y="366.70" font-size="24.5" text-anchor="end">75</text>
<text x="136.5" y="297.52" font-size="24.5" text-anchor="end">80</text>
<text x="136.5" y="228.34" font-size="24.5" text-anchor="end">85</text>
<text x="136.5" y="159.16" font-size="24.5" text-anchor="end">90</text>
<text x="136.5" y="89.98" font-size="24.5" text-anchor="end">95</text>
<text x="136.5" y="20.80" font-size="24.5" text-anchor="end">100</text>
<text x="1335.5" y="712.60" font-size="24.5">0</text>
<text x="1335.5" y="574.24" font-size="24.5">10</text>
<text x="1335.5" y="435.88" font-size="24.5">20</text>
<text x="1335.5" y="297.52" font-size="24.5">30</text>
<text x="1335.5" y="159.16" font-size="24.5">40</text>
<text x="1335.5" y="20.80" font-size="24.5">50</text>
<text x="152.60" y="737.8" font-size="24.5" text-anchor="middle">20</text>
<text x="424.43" y="737.8" font-size="24.5" text-anchor="middle">100</text>
<text x="813.33" y="737.8" font-size="24.5" text-anchor="middle">1000</text>
<text x="1202.23" y="737.8" font-size="24.5" text-anchor="middle">10000</text>
<text x="735.6" y="784.5" font-size="33.6" text-anchor="middle">Frequency (Hz)</text>
<text transform="translate(29.6,357.6) rotate(-90)" font-size="33.4" text-anchor="middle">SPL (dB) @ 2.83V, 1m, half space</text>
<text transform="translate(1403,357.8) rotate(90)" font-size="33.25" text-anchor="middle">Impedance (Ohm)</text>
<rect x="159.6" y="18.2" width="305.6" height="75.4" fill="#fff" stroke="#000" stroke-width="1.6"/>
<path d="M171.3,39.9H237.4" stroke="#d62a24" stroke-width="2.6"/>
<path d="M171.3,73.1H237.4" stroke="#000" stroke-width="3"/>
<text x="259.5" y="50.2" font-size="27.6">Impedance</text>
<text x="260" y="83" font-size="27.6">on axis</text>
</svg></body></html>
